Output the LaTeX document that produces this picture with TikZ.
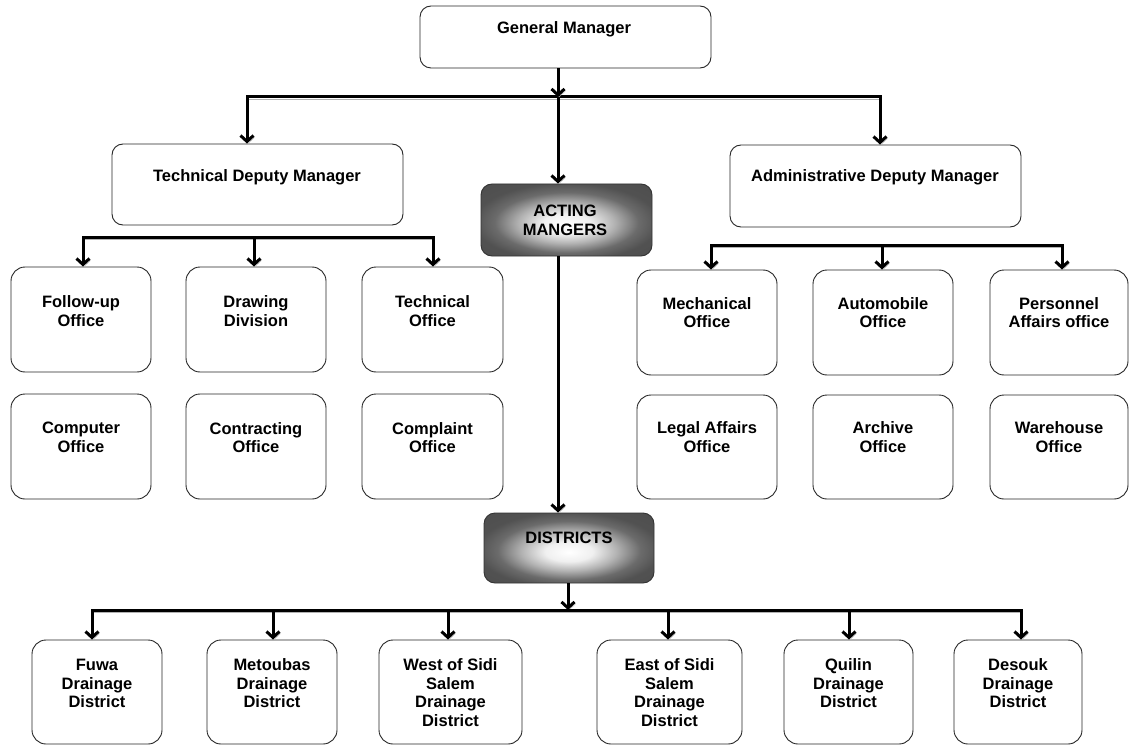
\documentclass[tikz,border=0pt]{standalone}
\usepackage{fontspec}
\setmainfont{Liberation Sans}
\usetikzlibrary{arrows.meta}
\newcommand{\obox}[6]{%
  \node[#6, minimum width={(#4-#2)*1pt}, minimum height={(#5-#3)*1pt}] (#1) at ({(#2+#4)/2},{(#3+#5)/2}) {};}
\pgfdeclareradialshading{softglow}{\pgfpoint{0bp}{-3bp}}{%
  color(0bp)=(white); color(7bp)=(white!94!black); color(14bp)=(black!30); color(21bp)=(black!58); color(27bp)=(black!68); color(50bp)=(black!72)}
\tikzset{
  box/.style={draw=black!85, line width=0.9pt, rounded corners=14pt, fill=white, inner sep=0pt},
  bigbox/.style={draw=black!85, line width=0.9pt, rounded corners=11pt, fill=white, inner sep=0pt},
  darkbox/.style={draw=black!80, line width=0.9pt, rounded corners=11pt, shading=softglow, inner sep=0pt},
  txt/.style={font=\bfseries\fontsize{16.5}{18.5}\selectfont, align=center, inner sep=0pt, text=black},
  conn/.style={line width=3pt, black, line cap=rect,
    preaction={draw=black!30, transform canvas={xshift=1pt,yshift=-2pt}}},
  arr/.style={conn, line cap=butt, -{Straight Barb[length=6pt,width=13pt,line width=3pt]}},
}
\begin{document}
\begin{tikzpicture}[x=1pt,y=-1pt]
\useasboundingbox (0,0) rectangle (1129,746);
% top level
\obox{gm}{420}{6}{711}{68}{bigbox}
\node[txt] (tgm) at (564,29) {General Manager};
\obox{tdm}{112}{144}{403}{225}{bigbox}
\node[txt] (ttdm) at (257,177) {Technical Deputy Manager};
\obox{adm}{730}{145}{1021}{227}{bigbox}
\node[txt] (tadm) at (875,177) {Administrative Deputy Manager};
\obox{act}{481}{184}{652}{256}{darkbox}
\node[txt] (tact) at (565,220.5) {ACTING\\MANGERS};
\obox{dis}{484}{513}{654}{583}{darkbox}
\node[txt] (tdis) at (569,538) {DISTRICTS};
% left offices
\obox{fu}{11}{267}{151}{372}{box}
\obox{dd}{186}{267}{326}{372}{box}
\obox{to}{362}{267}{503}{372}{box}
\obox{co}{11}{394}{151}{499}{box}
\obox{ct}{186}{394}{326}{499}{box}
\obox{cp}{362}{394}{503}{499}{box}
\node[txt] (tfu) at (81,311) {Follow-up\\Office};
\node[txt] (tdd) at (256,311) {Drawing\\Division};
\node[txt] (tto) at (432.5,311) {Technical\\Office};
\node[txt] (tco) at (81,437.5) {Computer\\Office};
\node[txt] (tct) at (256,437.5) {Contracting\\Office};
\node[txt] (tcp) at (432.5,437.5) {Complaint\\Office};
% right offices
\obox{me}{637}{270}{777}{375}{box}
\obox{au}{813}{270}{953}{375}{box}
\obox{pa}{990}{270}{1128}{375}{box}
\obox{la}{637}{395}{777}{499}{box}
\obox{ar}{813}{395}{953}{499}{box}
\obox{wh}{990}{395}{1128}{499}{box}
\node[txt] (tme) at (707,312.5) {Mechanical\\Office};
\node[txt] (tau) at (883,312.5) {Automobile\\Office};
\node[txt] (tpa) at (1059,312.5) {Personnel\\Affairs office};
\node[txt] (tla) at (707,437) {Legal Affairs\\Office};
\node[txt] (tar) at (883,437) {Archive\\Office};
\node[txt] (twh) at (1059,437) {Warehouse\\Office};
% districts
\obox{d1}{32}{640}{162}{744}{box}
\obox{d2}{207}{640}{337}{744}{box}
\obox{d3}{379}{640}{522}{744}{box}
\obox{d4}{597}{640}{742}{744}{box}
\obox{d5}{784}{640}{913}{744}{box}
\obox{d6}{954}{640}{1082}{744}{box}
\node[txt] (td1) at (97,683.5) {Fuwa\\Drainage\\District};
\node[txt] (td2) at (272,683.5) {Metoubas\\Drainage\\District};
\node[txt] (td3) at (450.5,692.5) {West of Sidi\\Salem\\Drainage\\District};
\node[txt] (td4) at (669.5,692.5) {East of Sidi\\Salem\\Drainage\\District};
\node[txt] (td5) at (848.5,683.5) {Quilin\\Drainage\\District};
\node[txt] (td6) at (1018,683.5) {Desouk\\Drainage\\District};
% junction coordinates
\coordinate (j0) at (558,97);
\coordinate (jL) at (247,97);
\coordinate (jR) at (880,97);
\coordinate (lL) at (83,237);
\coordinate (lM) at (254,237);
\coordinate (lR) at (433,237);
\coordinate (rL) at (711,245);
\coordinate (rM) at (882,245);
\coordinate (rR) at (1062,245);
\coordinate (jD) at (568,610);
\coordinate (b1) at (92,610);
\coordinate (b2) at (273,610);
\coordinate (b3) at (448,610);
\coordinate (b4) at (668,610);
\coordinate (b5) at (849,610);
\coordinate (b6) at (1021,610);
% connectors
\draw[conn] (jL) -- (jR);
\draw[arr] (gm.south -| j0) -- (j0);
\draw[arr] (jL) -- (jL |- tdm.north);
\draw[arr] (jR) -- (jR |- adm.north);
\draw[arr] (j0) -- (j0 |- act.north);
\draw[conn] (lL) -- (lR);
\draw[arr] (lL) -- (lL |- fu.north);
\draw[arr] (lM) -- (lM |- dd.north);
\draw[arr] (lR) -- (lR |- to.north);
\draw[conn] (rL) -- (rR);
\draw[arr] (rL) -- (rL |- me.north);
\draw[arr] (rM) -- (rM |- au.north);
\draw[arr] (rR) -- (rR |- pa.north);
\draw[arr] (act.south -| j0) -- (j0 |- dis.north);
\draw[arr] (dis.south -| jD) -- (jD);
\draw[conn] (b1) -- (b6);
\draw[arr] (b1) -- (b1 |- d1.north);
\draw[arr] (b2) -- (b2 |- d2.north);
\draw[arr] (b3) -- (b3 |- d3.north);
\draw[arr] (b4) -- (b4 |- d4.north);
\draw[arr] (b5) -- (b5 |- d5.north);
\draw[arr] (b6) -- (b6 |- d6.north);
\end{tikzpicture}
\end{document}
